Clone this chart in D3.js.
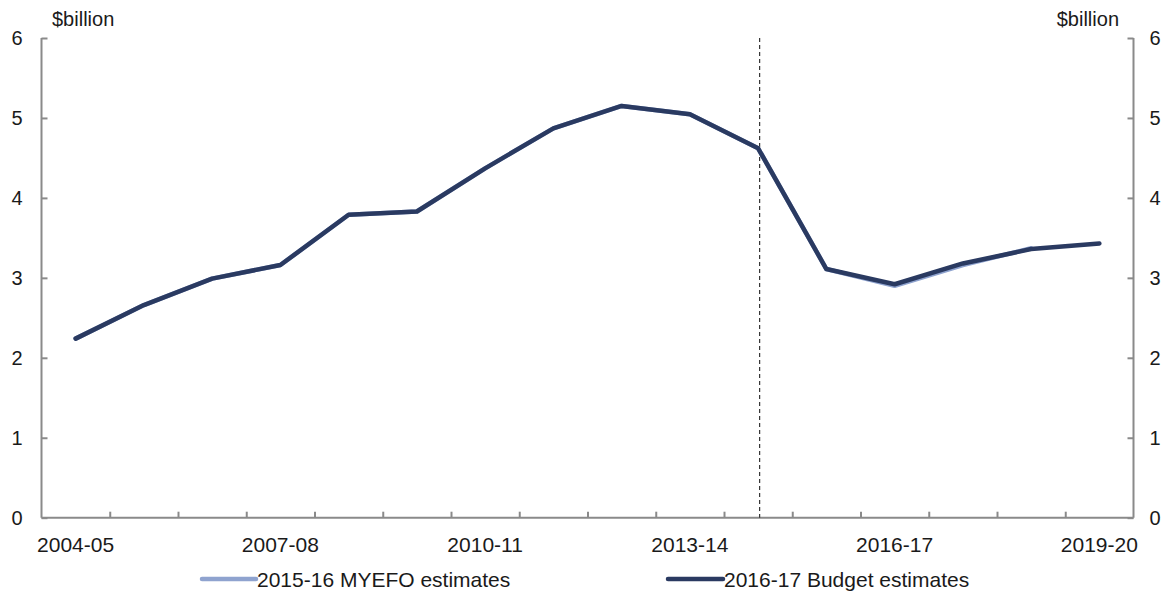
<!DOCTYPE html>
<html>
<head>
<meta charset="utf-8">
<script src="https://cdn.jsdelivr.net/npm/d3@7"></script>
<style>
  html, body { margin: 0; padding: 0; background: #fff; }
  svg { display: block; font-family: "Liberation Sans", Arial, sans-serif; }
</style>
</head>
<body>
<svg id="chart" width="1171" height="592"></svg>
<script>
// Financial years on the horizontal axis
const years = ["2004-05","2005-06","2006-07","2007-08","2008-09","2009-10","2010-11",
  "2011-12","2012-13","2013-14","2014-15","2015-16","2016-17","2017-18","2018-19","2019-20"];

// $billion
const budgetEstimates = [2.24, 2.66, 2.99, 3.16, 3.79, 3.83, 4.37, 4.87, 5.15, 5.045, 4.62,
  3.11, 2.92, 3.18, 3.36, 3.43];
const myefoEstimates = [2.24, 2.66, 2.99, 3.16, 3.79, 3.83, 4.37, 4.87, 5.15, 5.045, 4.62,
  3.11, 2.90, 3.16, 3.37, null];

const yTicks = [0, 1, 2, 3, 4, 5, 6];
const xLabelYears = ["2004-05","2007-08","2010-11","2013-14","2016-17","2019-20"];
const dividerYear = "2014-15";

const seriesNames = ["2015-16 MYEFO estimates", "2016-17 Budget estimates"];
const seriesColors = ["#8fa3cf", "#2a3a61"];

const svg = d3.select("#chart");
const plotL = 41.5, plotR = 1133.5, plotT = 38, plotB = 517.7;
const axisColor = "#8a8a8a";
const fontSize = 20;
const labelSize = 21;

const x = d3.scaleBand().domain(years).range([plotL, plotR]).padding(0);
const y = d3.scaleLinear().domain([0, 6]).range([plotB, plotT]);
const cx = d => x(d) + x.bandwidth() / 2;

// Left axis
const yLeft = svg.append("g").attr("transform", `translate(${plotL},0)`)
  .call(d3.axisRight(y).tickValues(yTicks).tickSize(6).tickFormat(""));
// Right axis
const yRight = svg.append("g").attr("transform", `translate(${plotR},0)`)
  .call(d3.axisLeft(y).tickValues(yTicks).tickSize(6).tickFormat(""));
// Bottom axis: tick marks at category boundaries
const boundaries = years.slice(1).map(d => x(d));
const xAxisScale = d3.scaleLinear().domain([plotL, plotR]).range([plotL, plotR]);
const xAxis = svg.append("g").attr("transform", `translate(0,${plotB})`)
  .call(d3.axisTop(xAxisScale).tickValues(boundaries).tickSize(6).tickFormat(""));

[yLeft, yRight, xAxis].forEach(g => {
  g.select(".domain").attr("stroke", axisColor).attr("stroke-width", 2);
  g.selectAll(".tick line").attr("stroke", axisColor).attr("stroke-width", 2);
});
xAxis.select(".domain").attr("d", `M${plotL},0H${plotR}`);
yLeft.select(".domain").attr("d", `M0,${plotT}V${plotB}`);
yRight.select(".domain").attr("d", `M0,${plotT}V${plotB}`);

// Y tick labels on both sides
svg.append("g").selectAll("text").data(yTicks).join("text")
  .attr("x", 17).attr("y", d => y(d)).attr("dy", "0.36em")
  .attr("text-anchor", "middle").attr("font-size", fontSize).attr("fill", "#1a1a1a")
  .text(d => d);
svg.append("g").selectAll("text").data(yTicks).join("text")
  .attr("x", 1155).attr("y", d => y(d)).attr("dy", "0.36em")
  .attr("text-anchor", "middle").attr("font-size", fontSize).attr("fill", "#1a1a1a")
  .text(d => d);

// Unit labels
svg.append("text").attr("x", 52).attr("y", 26).attr("font-size", fontSize)
  .attr("fill", "#1a1a1a").text("$billion");
svg.append("text").attr("x", 1119).attr("y", 26).attr("font-size", fontSize)
  .attr("text-anchor", "end").attr("fill", "#1a1a1a").text("$billion");

// X labels
svg.append("g").selectAll("text").data(xLabelYears).join("text")
  .attr("x", d => cx(d)).attr("y", 552)
  .attr("text-anchor", "middle").attr("font-size", labelSize).attr("fill", "#1a1a1a")
  .text(d => d);

// Divider between actuals and estimates
svg.append("line")
  .attr("x1", cx(dividerYear) + 1.5).attr("x2", cx(dividerYear) + 1.5)
  .attr("y1", plotT).attr("y2", plotB)
  .attr("stroke", "#333").attr("stroke-width", 1.2).attr("stroke-dasharray", "4,3");

// Series lines
const line = d3.line()
  .defined(d => d.v != null)
  .x(d => cx(d.year)).y(d => y(d.v));

[myefoEstimates, budgetEstimates].forEach((vals, i) => {
  svg.append("path")
    .datum(years.map((yr, j) => ({ year: yr, v: vals[j] })))
    .attr("fill", "none").attr("stroke", seriesColors[i])
    .attr("stroke-width", 4.5).attr("stroke-linejoin", "round").attr("stroke-linecap", "round")
    .attr("d", line);
});

// Legend
const legendItems = [
  { name: seriesNames[0], color: seriesColors[0], x1: 202, x2: 256 },
  { name: seriesNames[1], color: seriesColors[1], x1: 668, x2: 723 }
];
const lg = svg.append("g");
legendItems.forEach(it => {
  lg.append("line").attr("x1", it.x1).attr("x2", it.x2).attr("y1", 579).attr("y2", 579)
    .attr("stroke", it.color).attr("stroke-width", 4.5).attr("stroke-linecap", "round");
  lg.append("text").attr("x", it.x2 + 1).attr("y", 587).attr("font-size", labelSize)
    .attr("fill", "#1a1a1a").text(it.name);
});
</script>
</body>
</html>
